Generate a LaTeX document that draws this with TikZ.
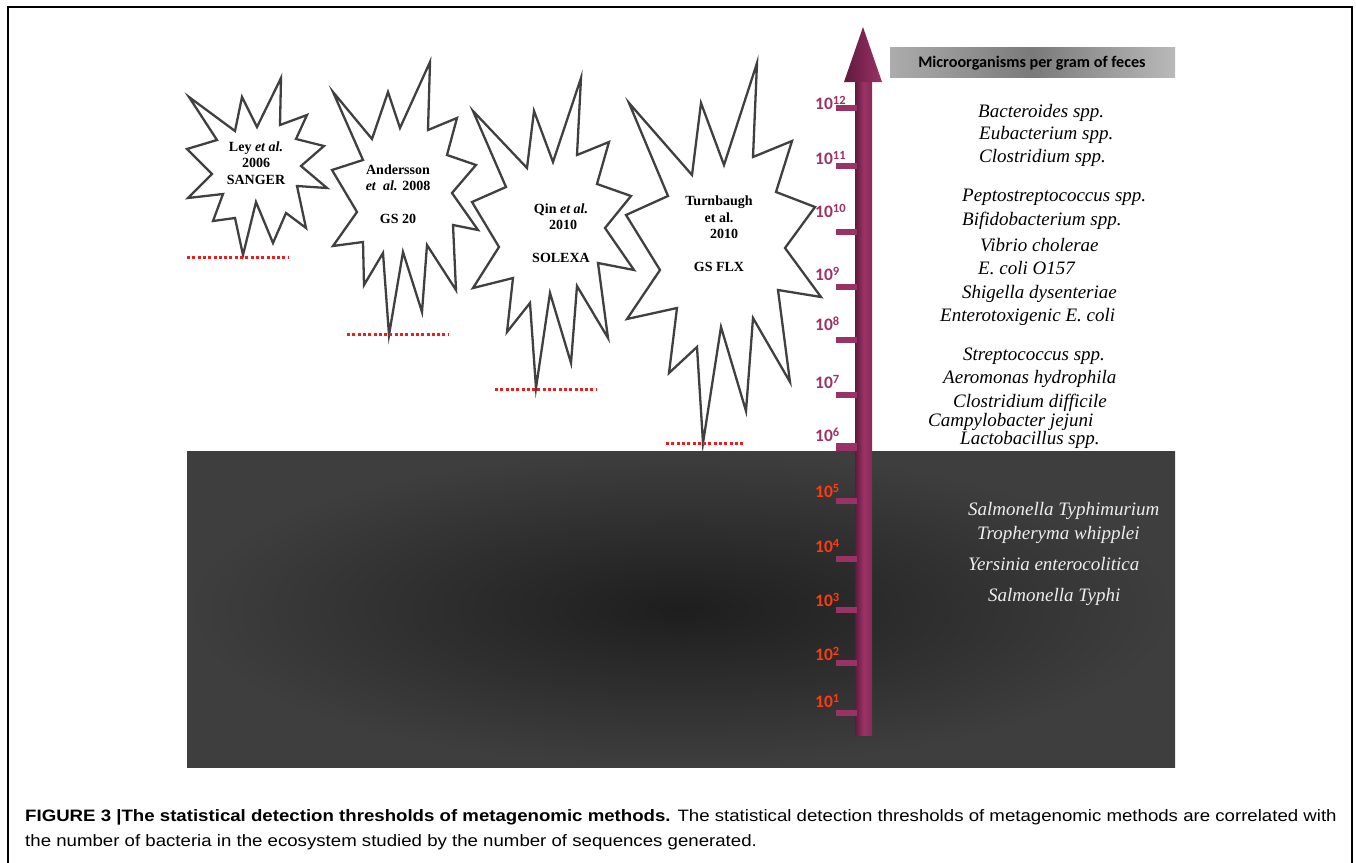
\documentclass[tikz,border=0pt]{standalone}
\usepackage{fontspec}
\setmainfont{Liberation Serif}
\newfontfamily\calib{Carlito}
\newfontfamily\capfont[FakeStretch=1.13]{Liberation Sans}
\definecolor{maroon}{RGB}{155,50,102}
\definecolor{maroondk}{RGB}{95,25,62}
\definecolor{lblred}{RGB}{255,60,15}
\definecolor{starline}{RGB}{64,64,64}
\definecolor{dotred}{RGB}{235,30,30}
\definecolor{hdrL}{RGB}{172,172,172}
\definecolor{hdrM}{RGB}{122,122,122}
\definecolor{hdrR}{RGB}{185,185,185}
\definecolor{darkin}{RGB}{30,30,30}
\definecolor{darkout}{RGB}{62,62,62}
\definecolor{lighttxt}{RGB}{238,238,238}
\newcommand{\pw}[1]{10\raisebox{5pt}{\fontsize{12.5}{12}\selectfont #1}}
\tikzset{
  starshape/.style={draw=starline, line width=2.3pt, fill=white, line join=miter},
  startext/.style={inner sep=0pt, align=center, font=\fontsize{14}{16.5}\selectfont\bfseries},
  thresh/.style={dotred, line width=3pt, dash pattern=on 3pt off 2.3pt},
  tickmark/.style={fill=maroon},
  hilbl/.style={inner sep=0pt, anchor=base west, text=maroon, font=\calib\bfseries\fontsize{17.5}{18}\selectfont},
  lolbl/.style={hilbl, text=lblred},
  species/.style={inner sep=0pt, anchor=base west, font=\fontsize{19}{22}\selectfont\itshape},
  dspecies/.style={species, text=lighttxt},
  captxt/.style={inner sep=0pt, anchor=base west, font=\capfont\fontsize{16.5}{19}\selectfont},
}
\begin{document}
\begin{tikzpicture}[x=1pt,y=-1pt]
\useasboundingbox (0,0) rectangle (1356,862);
% outer frame
\draw[line width=1.4pt] (8,900) -- (8,7) -- (1352,7) -- (1352,900);
% dark background block
\shade[inner color=darkin, outer color=darkout] (187,451) rectangle (1175,767);
% stars
\draw[starshape] (189,97)--(235,131)--(242,97)--(257,127)--(281,78)--(280,125)--(307,115)--(296,139)--(324,146)--(301,166)--(327,188)--(297,186)--(306,228)--(286,213)--(273,243)--(256,202)--(243,255)--(235,218)--(213,221)--(223,194)--(188,198)--(212,174)--(187,149)--(217,140)--cycle;
\draw[starshape] (333,92)--(372,139)--(388,92)--(400,128)--(430,62)--(428,130)--(457,118)--(447,155)--(476,165)--(452,193)--(478,230)--(453,225)--(456,290)--(427,245)--(422,312)--(403,252)--(389,335)--(383,253)--(364,285)--(363,242)--(333,246)--(357,212)--(332,170)--(363,160)--cycle;
\draw[starshape] (473,111)--(527,168)--(534,111)--(553,162)--(581,78)--(577,155)--(609,142)--(597,184)--(631,196)--(605,228)--(634,270)--(598,263)--(608,338)--(577,286)--(571,363)--(550,293)--(536,388)--(530,303)--(507,332)--(513,278)--(473,288)--(499,247)--(472,202)--(506,187)--cycle;
\draw[starshape] (629,103)--(692,175)--(701,103)--(724,165)--(757,63)--(753,157)--(792,141)--(776,192)--(815,207)--(785,248)--(821,297)--(778,290)--(790,382)--(753,318)--(746,411)--(721,327)--(703,443)--(697,347)--(669,373)--(677,308)--(627,319)--(660,270)--(626,215)--(668,196)--cycle;
% star texts
\node[startext] (tley) at (256,163) {Ley \textit{et al.}\\2006\\SANGER};
\node[startext] (tand) at (398,194) {Andersson\\\textit{et}\ \ \textit{al.} 2008\\[16.5pt]GS 20};
\node[startext] (tqin) at (561,233) {Qin \textit{et al.}\\\hspace*{4pt}2010\\[16.5pt]SOLEXA};
\node[startext] (ttur) at (719,234) {Turnbaugh\\et al.\\\hspace*{10pt}2010\\[16.5pt]GS FLX};
% threshold lines
\coordinate (l1a) at (187,257); \coordinate (l1b) at (289,257);
\coordinate (l2a) at (347,334); \coordinate (l2b) at (448,334);
\coordinate (l3a) at (495,389); \coordinate (l3b) at (596,389);
\coordinate (l4a) at (666,443); \coordinate (l4b) at (744,443);
\draw[thresh] (l1a) -- (l1b);
\draw[thresh] (l2a) -- (l2b);
\draw[thresh] (l3a) -- (l3b);
\draw[thresh] (l4a) -- (l4b);
% axis arrow
\shade[left color=maroondk, right color=maroon!85!black, middle color=maroon] (855,82) rectangle (872,735);
\shade[left color=maroondk, right color=maroon] (844,82) -- (863,27) -- (882,82) -- cycle;
% ticks
\foreach \yy in {108,166,232,287,340,395,501,559,610,663,713}
  \fill[tickmark] (836,\yy-3) rectangle (857,\yy+3);
\fill[tickmark] (836,443) rectangle (857,451);
% labels
\node[hilbl] (e12) at (815,109) {\pw{12}};
\node[hilbl] (e11) at (815,164) {\pw{11}};
\node[hilbl] (e10) at (815,217) {\pw{10}};
\node[hilbl] (e9) at (815,280) {\pw{9}};
\node[hilbl] (e8) at (815,330) {\pw{8}};
\node[hilbl] (e7) at (815,388) {\pw{7}};
\node[hilbl] (e6) at (815,441) {\pw{6}};
\node[lolbl] (e5) at (815,497) {\pw{5}};
\node[lolbl] (e4) at (815,552) {\pw{4}};
\node[lolbl] (e3) at (815,606) {\pw{3}};
\node[lolbl] (e2) at (815,660) {\pw{2}};
\node[lolbl] (e1) at (815,707) {\pw{1}};
% header
\shade[left color=hdrL, right color=hdrR, middle color=hdrM] (890,47) rectangle (1175,77);
\node[inner sep=0pt, font=\calib\bfseries\fontsize{16.2}{18}\selectfont] (hdr) at (1032,63) {Microorganisms per gram of feces};
% species
\node[species] (s1) at (978,117) {Bacteroides spp.};
\node[species] (s2) at (979,139) {Eubacterium spp.};
\node[species] (s3) at (979,162) {Clostridium spp.};
\node[species] (s4) at (962,201) {Peptostreptococcus spp.};
\node[species] (s5) at (962,225) {Bifidobacterium spp.};
\node[species] (s6) at (980,251) {Vibrio cholerae};
\node[species] (s7) at (978,274) {E. coli O157};
\node[species] (s8) at (962,298) {Shigella dysenteriae};
\node[species] (s9) at (940,321) {Enterotoxigenic E. coli};
\node[species] (s10) at (963,360) {Streptococcus spp.};
\node[species] (s11) at (943,383) {Aeromonas hydrophila};
\node[species] (s12) at (953,407) {Clostridium difficile};
\node[species] (s13) at (928,426) {Campylobacter jejuni};
\node[species] (s14) at (960,444) {Lactobacillus spp.};
\node[dspecies] (d1) at (968,515) {Salmonella Typhimurium};
\node[dspecies] (d2) at (977,539) {Tropheryma whipplei};
\node[dspecies] (d3) at (968,570) {Yersinia enterocolitica};
\node[dspecies] (d4) at (988,601) {Salmonella Typhi};
% caption
\node[captxt] (cap1) at (25,821) {\textbf{FIGURE 3 |The statistical detection thresholds of metagenomic methods.} The statistical detection thresholds of metagenomic methods are correlated with};
\node[captxt] (cap2) at (25,846) {the number of bacteria in the ecosystem studied by the number of sequences generated.};
\end{tikzpicture}
\end{document}
